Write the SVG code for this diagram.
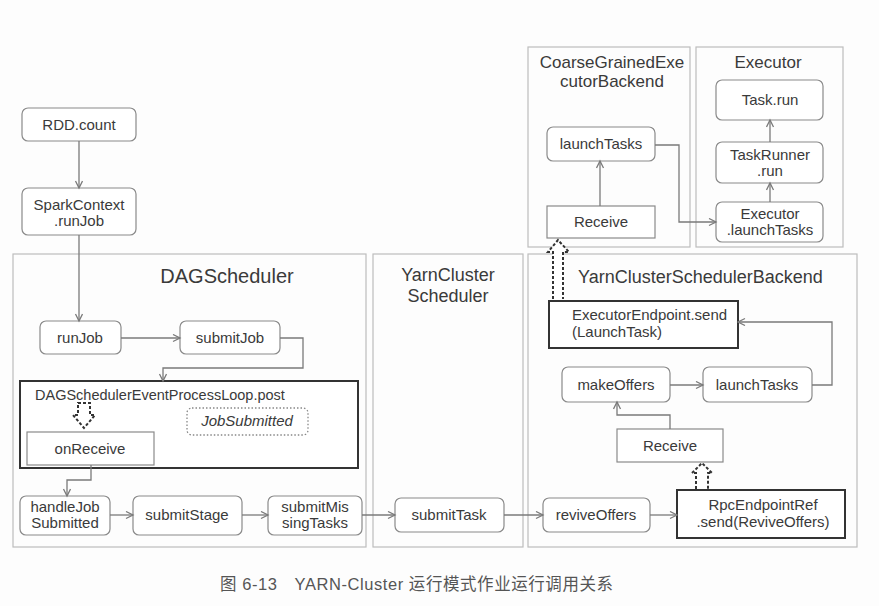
<svg xmlns="http://www.w3.org/2000/svg" width="879" height="606" viewBox="0 0 879 606">
<style>
text{font-family:"Liberation Sans","Noto Sans CJK SC",sans-serif;fill:#3a3a3a;font-size:15px}
.c{text-anchor:middle}
.t{font-size:18px}
.cont{fill:none;stroke:#bdbdbd;stroke-width:1.2}
.n{fill:#fff;stroke:#8a8a8a;stroke-width:1.2}
.k{fill:#fff;stroke:#333;stroke-width:2}
.ln{fill:none;stroke:#7a7a7a;stroke-width:1.3;marker-end:url(#ah)}
.da{fill:#fff;stroke:#333;stroke-width:2;stroke-dasharray:3 2}
</style>
<defs>
<marker id="ah" markerWidth="10" markerHeight="10" refX="8" refY="4" orient="auto" markerUnits="userSpaceOnUse">
<path d="M1,0.5 L8,4 L1,7.5" fill="none" stroke="#7a7a7a" stroke-width="1.3"/>
</marker>
</defs>
<rect width="879" height="606" fill="#fdfdfd"/>

<g id="containers">
<rect class="cont" x="13" y="254" width="353" height="293"/>
<text class="c" x="227" y="283" style="font-size:20px">DAGScheduler</text>
<rect class="cont" x="373" y="254" width="150" height="293"/>
<text class="c t" x="448" y="281">YarnCluster</text>
<text class="c t" x="448" y="302">Scheduler</text>
<rect class="cont" x="528" y="254" width="329" height="293"/>
<text class="t" x="578" y="283">YarnClusterSchedulerBackend</text>
<rect class="cont" x="528" y="47" width="162" height="200"/>
<text class="c" x="612" y="68" style="font-size:17px">CoarseGrainedExe</text>
<text class="c" x="612" y="87" style="font-size:17px">cutorBackend</text>
<rect class="cont" x="696" y="47" width="147" height="200"/>
<text class="c" x="768" y="68" style="font-size:17px">Executor</text>
</g>

<g id="rdd-count"><rect class="n" x="22" y="108" width="114" height="33" rx="6"/><text class="c" x="79" y="130">RDD.count</text></g>
<g id="sparkcontext-runjob"><rect class="n" x="22" y="188" width="114" height="47" rx="6"/><text class="c" x="79" y="210">SparkContext</text><text class="c" x="79" y="226">.runJob</text></g>
<g id="runjob"><rect class="n" x="40" y="321" width="81" height="33" rx="6"/><text class="c" x="80" y="343">runJob</text></g>
<g id="submitjob"><rect class="n" x="180" y="321" width="100" height="33" rx="6"/><text class="c" x="230" y="343">submitJob</text></g>
<g id="eventloop-post"><rect class="k" x="20" y="381" width="338" height="87"/><text x="35" y="400" style="font-size:14.5px">DAGSchedulerEventProcessLoop.post</text></g>
<g id="jobsubmitted"><rect x="187" y="408" width="121" height="27" rx="5" fill="none" stroke="#888" stroke-width="1.3" stroke-dasharray="1.5 2"/><text class="c" x="247" y="426" font-style="italic">JobSubmitted</text></g>
<g id="onreceive"><rect class="n" x="27" y="432" width="127" height="33"/><text class="c" x="90" y="454">onReceive</text></g>
<g id="handlejobsubmitted"><rect class="n" x="20" y="496" width="90" height="39" rx="6"/><text class="c" x="65" y="512">handleJob</text><text class="c" x="65" y="528">Submitted</text></g>
<g id="submitstage"><rect class="n" x="133" y="496" width="109" height="39" rx="6"/><text class="c" x="187" y="520">submitStage</text></g>
<g id="submitmissingtasks"><rect class="n" x="268" y="496" width="94" height="39" rx="6"/><text class="c" x="315" y="512">submitMis</text><text class="c" x="315" y="528">singTasks</text></g>
<g id="submittask"><rect class="n" x="395" y="498" width="109" height="34" rx="6"/><text class="c" x="449" y="520">submitTask</text></g>
<g id="reviveoffers"><rect class="n" x="543" y="498" width="107" height="34" rx="6"/><text class="c" x="596" y="520">reviveOffers</text></g>
<g id="rpcendpointref-send"><rect class="k" x="677" y="490" width="168" height="48"/><text class="c" x="763" y="510">RpcEndpointRef</text><text class="c" x="763" y="527">.send(ReviveOffers)</text></g>
<g id="backend-receive"><rect class="n" x="617" y="429" width="106" height="33"/><text class="c" x="670" y="451">Receive</text></g>
<g id="makeoffers"><rect class="n" x="562" y="367" width="108" height="35" rx="6"/><text class="c" x="616" y="390">makeOffers</text></g>
<g id="backend-launchtasks"><rect class="n" x="703" y="367" width="109" height="35" rx="6"/><text class="c" x="757" y="390">launchTasks</text></g>
<g id="executorendpoint-send"><rect class="k" x="549" y="301" width="189" height="47"/><text x="572" y="320">ExecutorEndpoint.send</text><text x="572" y="337">(LaunchTask)</text></g>
<g id="coarse-launchtasks"><rect class="n" x="547" y="127" width="108" height="34" rx="6"/><text class="c" x="601" y="149">launchTasks</text></g>
<g id="coarse-receive"><rect class="n" x="547" y="206" width="108" height="32"/><text class="c" x="601" y="227">Receive</text></g>
<g id="task-run"><rect class="n" x="716" y="80" width="107" height="40" rx="6"/><text class="c" x="770" y="105">Task.run</text></g>
<g id="taskrunner-run"><rect class="n" x="716" y="142" width="107" height="41" rx="6"/><text class="c" x="770" y="160">TaskRunner</text><text class="c" x="770" y="176">.run</text></g>
<g id="executor-launchtasks"><rect class="n" x="716" y="202" width="107" height="40" rx="6"/><text class="c" x="770" y="219">Executor</text><text class="c" x="770" y="235">.launchTasks</text></g>

<g id="connectors">
<path class="ln" d="M79,141 V188"/>
<path class="ln" d="M79,235 V321"/>
<path class="ln" d="M121,338 H180"/>
<path class="ln" d="M280,338 H303 V368 H163 V381"/>
<path class="ln" d="M91,465 V480 H67 V496"/>
<path class="ln" d="M110,515 H133"/>
<path class="ln" d="M242,515 H268"/>
<path class="ln" d="M362,515 H395"/>
<path class="ln" d="M504,515 H543"/>
<path class="ln" d="M650,515 H677"/>
<path class="ln" d="M670,429 V415 H617 V402"/>
<path class="ln" d="M670,385 H703"/>
<path class="ln" d="M812,385 H832 V322 H738"/>
<path class="ln" d="M600,206 V161"/>
<path class="ln" d="M655,145 H679 V222 H716"/>
<path class="ln" d="M770,202 V183"/>
<path class="ln" d="M770,142 V120"/>
<path class="da" d="M78,403 H90 V415 H95 L84,428 L73,415 H78 Z"/>
<path class="da" d="M553,299 V252 H548 L558,240 L569,252 H563 V299"/>
<path class="da" d="M696,489 V473 H692 L702,463 L712,473 H708 V489"/>
</g>

<text x="220" y="590" textLength="393" lengthAdjust="spacing" style="font-size:16.5px;fill:#555">图 6-13　YARN-Cluster 运行模式作业运行调用关系</text>
</svg>
